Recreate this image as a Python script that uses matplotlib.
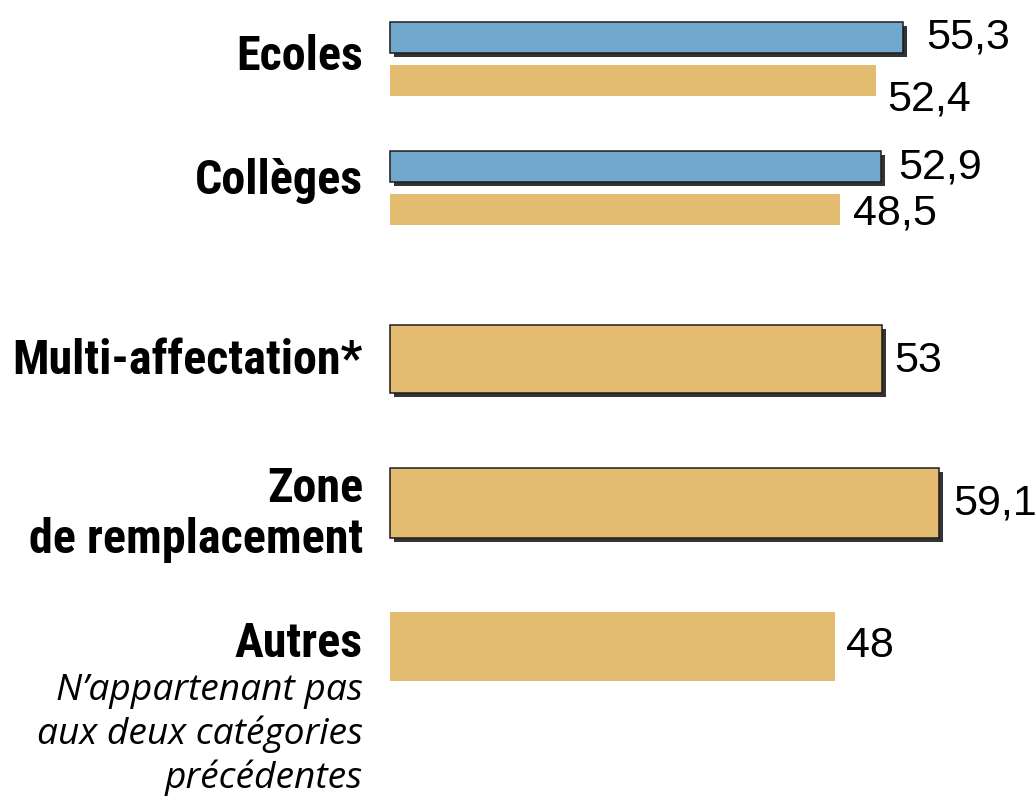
import matplotlib
matplotlib.use('Agg')
import matplotlib.pyplot as plt
import matplotlib.patheffects as pe
from matplotlib import font_manager

# values
groups = ['Ecoles', 'Collèges']
blue_values = [55.3, 52.9]
yellow_values = [52.4, 48.5]
single_labels = ['Multi-affectation*', 'Zone', 'Autres']
single_values = [53, 59.1, 48]
zone_second_line = 'de remplacement'
autres_note = ['N’appartenant pas', 'aux deux catégories', 'précédentes']

blue = '#72a8cd'
yellow = '#e3bc72'
edge = '#1e1e1e'
shadow = [pe.SimplePatchShadow(offset=(3, -3), shadow_rgbFace='#333333', alpha=1), pe.Normal()]

fonts = font_manager.fontManager.ttflist

def pick_bold():
    # prefer a narrow / condensed sans for the category labels
    for name, stretch in [('Roboto Condensed', None), ('Liberation Sans Narrow', None),
                          ('Noto Sans', 'condensed'), ('Noto Sans', 'semi-condensed'),
                          ('Open Sans', 'condensed'), ('Open Sans', 'semi-condensed')]:
        for f in fonts:
            if f.name == name and (stretch is None or f.stretch == stretch):
                return name, (stretch or 'normal')
    return 'Roboto', 'normal'

bold_family, bold_stretch = pick_bold()
plain = 'Liberation Sans'

def fmt(v):
    return f'{v:g}'.replace('.', ',')

fig = plt.figure(figsize=(10.36, 7.96), dpi=100)
ax = fig.add_axes([0, 0, 1, 1])
ax.set_xlim(-42.0, 69.6)
ax.set_ylim(796, 0)
ax.axis('off')
renderer = fig.canvas.get_renderer()

def fit_size(text, width_px, **kw):
    t = ax.text(0, 0, text, fontsize=30, **kw)
    w = t.get_window_extent(renderer).width
    t.remove()
    return 30 * width_px / w

label_kw = dict(fontweight='semibold', family=bold_family, fontstretch=bold_stretch)
label_size = min(fit_size('Multi-affectation*', 350, **label_kw), 36)
note_kw = dict(style='italic', family='Open Sans')
note_size = fit_size(autres_note[0], 306, **note_kw)
value_size = 31
label_x = -2.9

# layout (pixel rows)
blue_y = [37, 166.5]
yellow_y = [80.5, 209.5]
group_base = [70, 194]
blue_val = [(2.5, 48), (1.9, 178)]
yellow_val = [(1.2, 110), (1.4, 225)]
single_y = [359, 503, 646.5]
single_h = [68, 70, 69]
single_base = [374, 502, 657]
single_val = [(1.3, 372), (1.6, 515), (1.1, 657)]

for i, g in enumerate(groups):
    b = ax.barh(blue_y[i], blue_values[i], height=31, color=blue, edgecolor=edge, linewidth=1.1)
    b[0].set_path_effects(shadow)
    ax.barh(yellow_y[i], yellow_values[i], height=31, color=yellow, linewidth=0)
    ax.text(label_x, group_base[i], g, ha='right', va='baseline', fontsize=label_size, **label_kw)
    dx, yb = blue_val[i]
    ax.text(blue_values[i] + dx, yb, fmt(blue_values[i]), ha='left', va='baseline',
            fontsize=value_size, family=plain)
    dx, yb = yellow_val[i]
    ax.text(yellow_values[i] + dx, yb, fmt(yellow_values[i]), ha='left', va='baseline',
            fontsize=value_size, family=plain)

for i, lab in enumerate(single_labels):
    framed = i < 2
    b = ax.barh(single_y[i], single_values[i], height=single_h[i], color=yellow,
                edgecolor=edge if framed else 'none', linewidth=1.1 if framed else 0)
    if framed:
        b[0].set_path_effects(shadow)
    dx, yb = single_val[i]
    ax.text(single_values[i] + dx, yb, fmt(single_values[i]), ha='left', va='baseline',
            fontsize=value_size, family=plain)
    ax.text(label_x, single_base[i], lab, ha='right', va='baseline', fontsize=label_size, **label_kw)

ax.text(label_x, 553, zone_second_line, ha='right', va='baseline', fontsize=label_size, **label_kw)
for j, line in enumerate(autres_note):
    ax.text(label_x, 700 + 44 * j, line, ha='right', va='baseline', fontsize=note_size, **note_kw)

fig.savefig('out.png', dpi=100)
